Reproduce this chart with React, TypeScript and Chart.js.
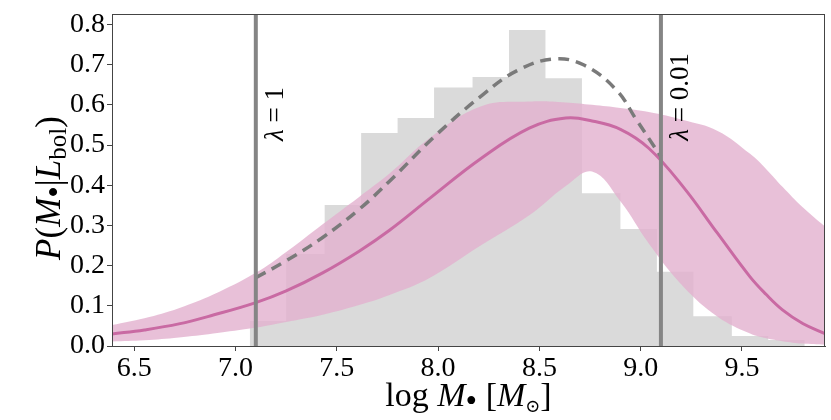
import { useEffect, useRef } from 'react';
import { Chart, registerables } from 'chart.js';

Chart.register(...registerables);

// Histogram (bin edges and bin heights)
const binEdges = [7.07, 7.25, 7.44, 7.62, 7.8, 7.98, 8.17, 8.35, 8.53, 8.71, 8.9, 9.08, 9.26, 9.45, 9.63, 9.81];
const binHeights = [0.062, 0.229, 0.351, 0.53, 0.567, 0.643, 0.669, 0.786, 0.666, 0.38, 0.291, 0.185, 0.074, 0.025, 0.015];

// Model curve: median and band
const gridX = [6.39, 6.55, 6.72, 6.89, 7.1, 7.25, 7.43, 7.61, 7.76, 7.96, 8.21, 8.45, 8.63, 8.76, 8.9, 9.04, 9.21, 9.38, 9.54, 9.62, 9.7, 9.8, 9.91];
const medianY = [0.03, 0.04, 0.055, 0.077, 0.108, 0.137, 0.182, 0.236, 0.288, 0.368, 0.466, 0.542, 0.567, 0.56, 0.539, 0.492, 0.396, 0.28, 0.172, 0.128, 0.09, 0.056, 0.031];
const upperY = [0.052, 0.069, 0.094, 0.128, 0.182, 0.234, 0.303, 0.371, 0.429, 0.518, 0.596, 0.608, 0.606, 0.6, 0.592, 0.582, 0.562, 0.535, 0.478, 0.44, 0.396, 0.345, 0.297];
const lowerY = [0.011, 0.014, 0.021, 0.031, 0.046, 0.06, 0.078, 0.102, 0.127, 0.17, 0.25, 0.325, 0.398, 0.434, 0.36, 0.255, 0.148, 0.073, 0.031, 0.019, 0.012, 0.006, 0.003];

// Dashed curve between the two lambda limits
const dashX = [7.1, 7.25, 7.43, 7.61, 7.76, 7.99, 8.22, 8.39, 8.57, 8.72, 8.88, 8.98, 9.1];
const dashY = [0.17, 0.212, 0.27, 0.34, 0.41, 0.525, 0.625, 0.685, 0.714, 0.699, 0.637, 0.562, 0.471];

// Vertical lambda lines
const lambdaX = [7.1, 9.1];
const lambdaText = ['1', '0.01'];
const lambdaLabelY = [0.577, 0.62];

const X_MIN = 6.39;
const X_MAX = 9.91;
const Y_MIN = 0;
const Y_MAX = 0.826;

const SERIF = "'Liberation Serif', 'DejaVu Serif', serif";

type Piece = { t: string; font: string; dy?: number };

function drawPieces(ctx: CanvasRenderingContext2D, pieces: Piece[], cx: number, cy: number, rotate: boolean) {
  ctx.save();
  ctx.translate(cx, cy);
  if (rotate) ctx.rotate(-Math.PI / 2);
  ctx.textAlign = 'left';
  ctx.textBaseline = 'alphabetic';
  ctx.fillStyle = '#000';
  let total = 0;
  const widths = pieces.map((p) => {
    ctx.font = p.font;
    const w = ctx.measureText(p.t).width;
    total += w;
    return w;
  });
  let x = -total / 2;
  pieces.forEach((p, i) => {
    ctx.font = p.font;
    ctx.fillText(p.t, x, p.dy || 0);
    x += widths[i];
  });
  ctx.restore();
}

const decorPlugin = {
  id: 'decor',
  afterDatasetsDraw(chart: any) {
    const { ctx, chartArea } = chart;
    const xs = chart.scales.x;
    const ys = chart.scales.y;
    ctx.save();
    ctx.strokeStyle = '#444';
    ctx.lineWidth = 1;
    ctx.strokeRect(
      Math.round(chartArea.left) + 0.5,
      Math.round(chartArea.top) + 0.5,
      Math.round(chartArea.right - chartArea.left) - 1,
      Math.round(chartArea.bottom - chartArea.top)
    );
    ctx.restore();

    lambdaX.forEach((lx, i) => {
      const px = xs.getPixelForValue(lx) + 27;
      const py = ys.getPixelForValue(lambdaLabelY[i]);
      drawPieces(
        ctx,
        [
          { t: 'λ', font: `italic 27px ${SERIF}` },
          { t: ' = ', font: `27px ${SERIF}` },
          { t: lambdaText[i], font: `27px ${SERIF}` },
        ],
        px,
        py,
        true
      );
    });
  },
  afterDraw(chart: any) {
    const { ctx, chartArea } = chart;
    const cx = (chartArea.left + chartArea.right) / 2;
    drawPieces(
      ctx,
      [
        { t: 'log ', font: `34px ${SERIF}` },
        { t: 'M', font: `italic 34px ${SERIF}` },
        { t: '•', font: `33px ${SERIF}`, dy: 6 },
        { t: ' [', font: `34px ${SERIF}` },
        { t: 'M', font: `italic 34px ${SERIF}` },
        { t: '⊙', font: `18px ${SERIF}`, dy: 6 },
        { t: ']', font: `34px ${SERIF}` },
      ],
      cx,
      406,
      false
    );
    const cy = (chartArea.top + chartArea.bottom) / 2 + 8;
    drawPieces(
      ctx,
      [
        { t: 'P', font: `italic 35px ${SERIF}` },
        { t: '(', font: `35px ${SERIF}` },
        { t: 'M', font: `italic 35px ${SERIF}` },
        { t: '•', font: `33px ${SERIF}`, dy: 5 },
        { t: '|', font: `35px ${SERIF}` },
        { t: 'L', font: `italic 35px ${SERIF}` },
        { t: 'bol', font: `25px ${SERIF}`, dy: 6 },
        { t: ')', font: `35px ${SERIF}` },
      ],
      60,
      cy,
      true
    );
  },
};

function pts(xs: number[], ys: number[]) {
  return xs.map((x, i) => ({ x, y: ys[i] }));
}

export default function App() {
  const ref = useRef<HTMLCanvasElement | null>(null);

  useEffect(() => {
    if (!ref.current) return;
    const histData = binEdges.map((e, i) => ({ x: e, y: binHeights[Math.min(i, binHeights.length - 1)] }));
    const tickFont = { family: SERIF, size: 28 };
    const smooth = 0.4;

    const chart = new Chart(ref.current, {
      type: 'line',
      data: {
        datasets: [
          {
            label: 'lambda1',
            data: [
              { x: lambdaX[0], y: Y_MIN },
              { x: lambdaX[0], y: Y_MAX },
            ],
            borderColor: '#858585',
            borderWidth: 4,
            pointRadius: 0,
            fill: false,
            order: 0,
          },
          {
            label: 'lambda2',
            data: [
              { x: lambdaX[1], y: Y_MIN },
              { x: lambdaX[1], y: Y_MAX },
            ],
            borderColor: '#858585',
            borderWidth: 4,
            pointRadius: 0,
            fill: false,
            order: 0,
          },
          {
            label: 'dashed',
            data: pts(dashX, dashY),
            borderColor: '#7a7a7a',
            borderWidth: 3.5,
            borderDash: [11, 7],
            pointRadius: 0,
            fill: false,
            tension: smooth,
            order: 1,
          },
          {
            label: 'median',
            data: pts(gridX, medianY),
            borderColor: '#c96aa3',
            borderWidth: 3,
            pointRadius: 0,
            fill: false,
            tension: smooth,
            order: 2,
          },
          {
            label: 'upper',
            data: pts(gridX, upperY),
            borderColor: 'rgba(0,0,0,0)',
            borderWidth: 1,
            backgroundColor: 'rgba(226,176,206,0.8)',
            pointRadius: 0,
            fill: '+1',
            tension: smooth,
            order: 3,
          },
          {
            label: 'lower',
            data: pts(gridX, lowerY),
            borderColor: 'rgba(0,0,0,0)',
            borderWidth: 1,
            pointRadius: 0,
            fill: false,
            tension: smooth,
            order: 3,
          },
          {
            label: 'hist',
            data: histData,
            stepped: 'before',
            borderColor: 'rgba(0,0,0,0)',
            borderWidth: 1,
            backgroundColor: '#dadada',
            pointRadius: 0,
            fill: 'origin',
            order: 4,
          },
        ] as any,
      },
      options: {
        animation: false,
        responsive: true,
        maintainAspectRatio: false,
        events: [],
        layout: { padding: { top: 14, right: 6, left: 0, bottom: 0 } },
        plugins: {
          legend: { display: false },
          tooltip: { enabled: false },
          title: { display: false },
          filler: { drawTime: 'beforeDatasetDraw' } as any,
        },
        scales: {
          x: {
            type: 'linear',
            min: X_MIN,
            max: X_MAX,
            border: { display: true, color: '#444' },
            grid: { display: true, drawOnChartArea: false, drawTicks: true, tickLength: 5, color: '#444' },
            ticks: {
              stepSize: 0.5,
              includeBounds: false,
              autoSkip: false,
              maxRotation: 0,
              padding: 1,
              color: '#000',
              font: tickFont,
              callback: (v: any) => Number(v).toFixed(1),
            } as any,
            afterFit: (s: any) => {
              s.height = 74;
              s.paddingLeft = 0;
              s.paddingRight = 0;
            },
          },
          y: {
            type: 'linear',
            min: Y_MIN,
            max: Y_MAX,
            border: { display: true, color: '#444' },
            grid: { display: true, drawOnChartArea: false, drawTicks: true, tickLength: 5, color: '#444' },
            ticks: {
              stepSize: 0.1,
              includeBounds: false,
              autoSkip: false,
              padding: 2,
              color: '#000',
              font: tickFont,
              callback: (v: any) => Number(v).toFixed(1),
            } as any,
            afterFit: (s: any) => {
              s.width = 112;
              s.paddingTop = 0;
              s.paddingBottom = 0;
            },
          },
        },
      },
      plugins: [decorPlugin],
    });
    return () => chart.destroy();
  }, []);

  return (
    <div style={{ position: 'absolute', left: 0, top: 0, width: 831, height: 420, background: '#fff' }}>
      <canvas ref={ref} />
    </div>
  );
}
